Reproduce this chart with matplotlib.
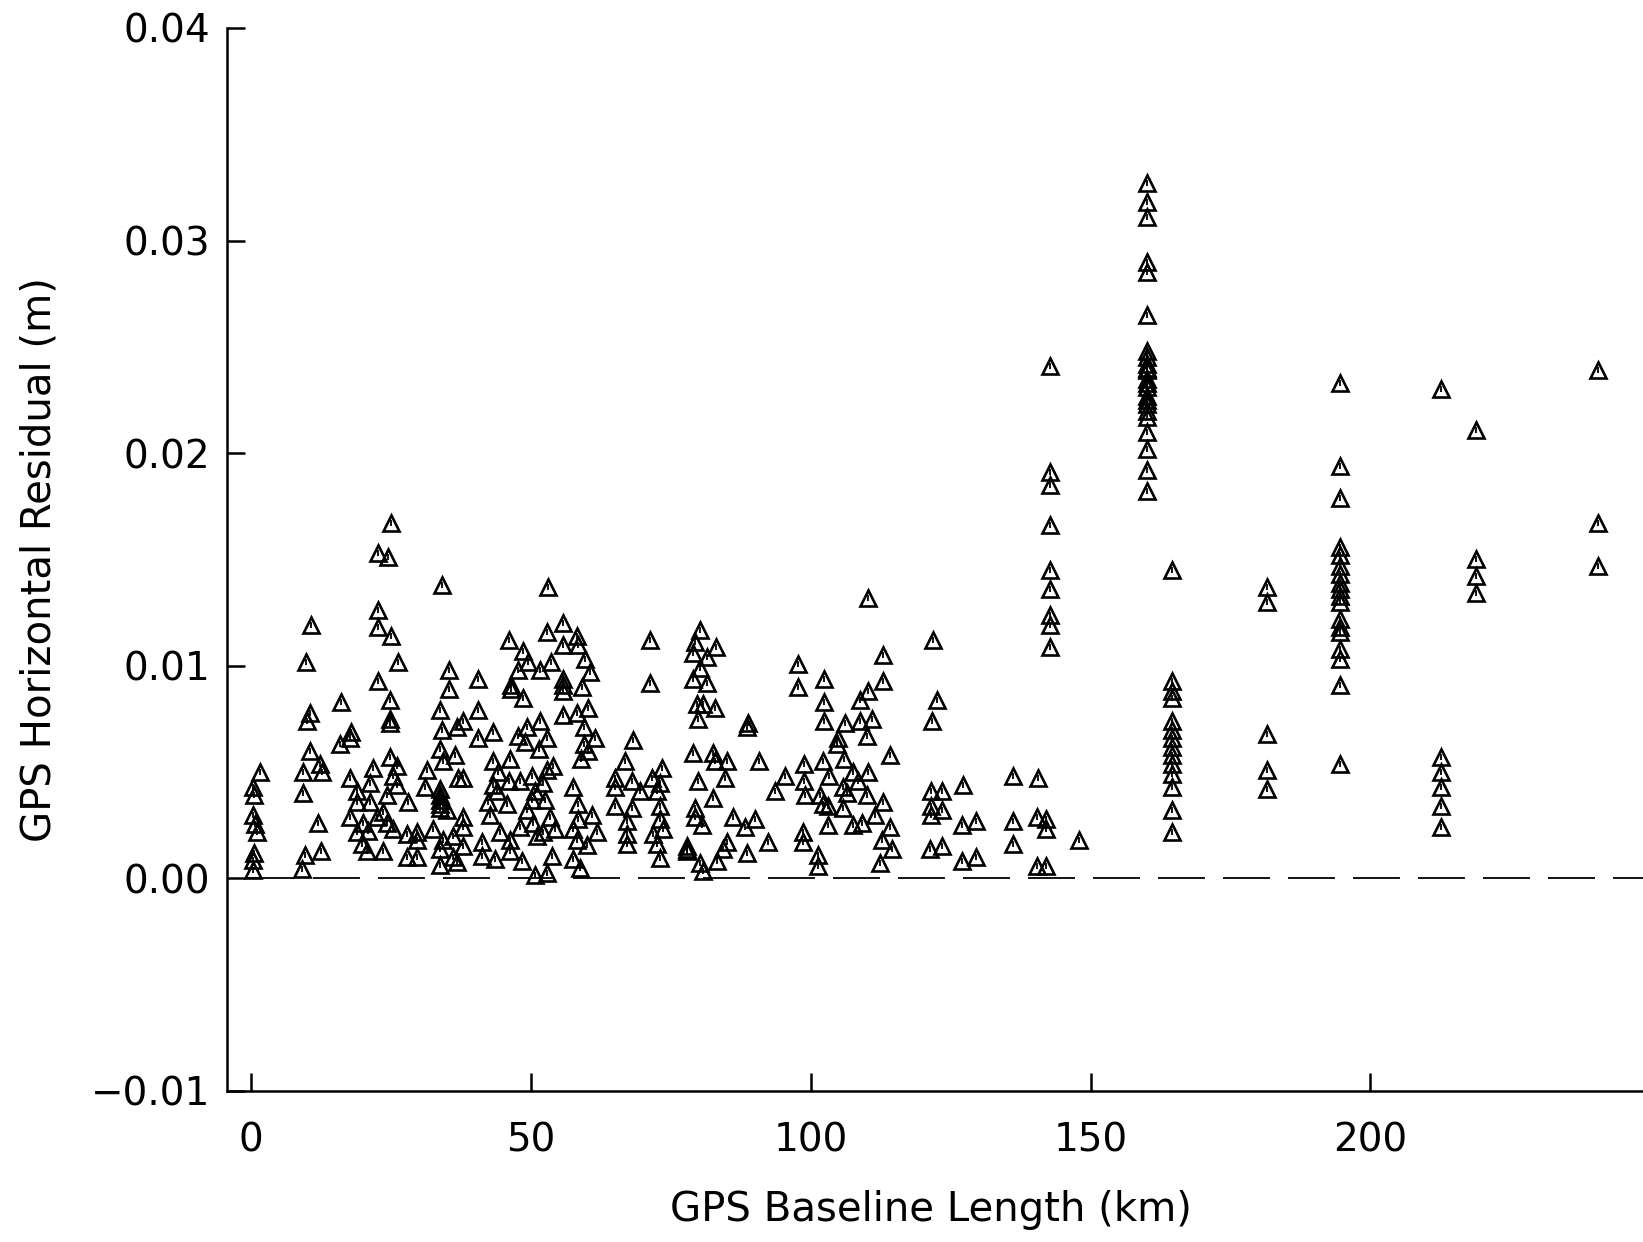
import numpy as np
import matplotlib
matplotlib.use('Agg')
import matplotlib.pyplot as plt

# residuals, in mm (converted to m when plotted)
# short baselines, 0-38 km
km_a = [24.9, 22.6, 24.4, 34.0, 10.6, 22.6, 22.6, 24.9, 9.7, 26.2,
        35.3, 22.6, 35.3, 16.0, 24.7, 24.7, 24.7, 10.5, 9.9, 33.7,
        17.8, 17.6, 15.8, 34.0, 36.7, 37.8, 10.5, 12.2, 9.2, 12.6,
        1.5, 0.3, 0.4, 9.2, 24.7, 21.7, 26.0, 17.6, 21.2, 25.3,
        18.9, 26.0, 24.2, 28.0, 18.9, 21.2, 23.5, 17.6, 19.9, 22.4,
        24.2, 25.3, 18.9, 20.8, 27.8, 29.6, 29.6, 19.7, 20.6, 23.5,
        27.8, 29.6, 31.4, 33.7, 34.2, 36.4, 36.9, 31.0, 33.7, 33.7,
        33.7, 33.7, 33.7, 34.9, 37.8, 32.4, 34.2, 36.0, 37.8, 33.7,
        36.0, 33.7, 36.7, 0.3, 0.6, 1.0, 0.4, 0.3, 0.3, 11.9,
        9.6, 12.4, 9.0, 37.8, 37.8]
mm_a = [16.7, 15.3, 15.1, 13.8, 11.9, 12.6, 11.8, 11.4, 10.2, 10.2,
        9.8, 9.3, 8.9, 8.3, 8.4, 7.5, 7.3, 7.8, 7.4, 7.9,
        6.9, 6.6, 6.3, 7.0, 7.1, 7.4, 6.0, 5.4, 5.0, 5.0,
        5.0, 4.3, 3.9, 4.0, 5.7, 5.2, 5.3, 4.7, 4.5, 4.8,
        4.1, 4.4, 3.9, 3.6, 3.6, 3.6, 3.1, 2.9, 2.6, 2.9,
        2.6, 2.3, 2.2, 2.25, 2.1, 2.2, 1.8, 1.6, 1.3, 1.3,
        1.0, 1.0, 5.1, 6.1, 5.5, 5.8, 4.7, 4.3, 4.2, 3.7,
        3.9, 3.5, 3.3, 3.2, 2.9, 2.3, 1.8, 2.0, 1.5, 1.4,
        1.0, 0.65, 0.75, 3.0, 2.55, 2.2, 1.2, 0.85, 0.4, 2.6,
        1.1, 1.3, 0.45, 4.7, 2.4]

# 40-75 km
km_b = [53.0, 55.7, 52.8, 46.0, 58.2, 55.7, 58.4, 48.5, 49.4, 53.5,
        59.6, 47.7, 51.6, 60.5, 55.7, 55.7, 55.7, 46.4, 46.4, 59.1,
        40.5, 48.5, 71.2, 71.2, 40.5, 55.7, 58.2, 60.1, 51.6, 43.2,
        49.2, 47.7, 40.5, 52.8, 59.4, 61.4, 48.9, 51.4, 59.4, 60.1,
        58.9, 68.2, 43.2, 46.2, 53.9, 52.8, 66.8, 73.4, 44.1, 46.0,
        48.0, 50.1, 52.1, 43.2, 65.0, 68.0, 71.6, 73.0, 57.5, 65.0,
        69.4, 50.7, 43.9, 72.5, 42.3, 45.6, 50.1, 52.4, 58.4, 65.0,
        68.0, 73.0, 42.6, 49.2, 53.3, 60.8, 58.4, 67.2, 73.0, 44.4,
        48.0, 50.3, 52.1, 54.2, 57.5, 61.7, 67.2, 71.8, 73.6, 41.2,
        46.2, 51.0, 58.2, 60.0, 67.2, 72.5, 41.2, 43.5, 46.2, 48.3,
        53.7, 57.5, 58.7, 73.0, 50.7, 52.8]
mm_b = [13.7, 12.0, 11.6, 11.2, 11.4, 11.0, 11.0, 10.7, 10.2, 10.2,
        10.3, 9.8, 9.8, 9.7, 9.4, 9.1, 8.8, 9.1, 8.9, 9.0,
        9.4, 8.5, 11.2, 9.2, 7.9, 7.7, 7.8, 8.0, 7.4, 6.9,
        7.1, 6.7, 6.6, 6.6, 7.1, 6.6, 6.4, 6.1, 6.3, 6.0,
        5.6, 6.5, 5.5, 5.6, 5.3, 5.1, 5.5, 5.2, 5.0, 4.6,
        4.6, 4.8, 4.5, 4.4, 4.7, 4.6, 4.7, 4.5, 4.3, 4.3,
        4.1, 4.1, 4.1, 4.1, 3.6, 3.5, 3.7, 3.7, 3.5, 3.4,
        3.3, 3.4, 3.0, 3.2, 2.9, 3.0, 2.8, 2.7, 2.8, 2.2,
        2.4, 2.6, 2.2, 2.3, 2.3, 2.2, 2.1, 2.1, 2.3, 1.7,
        1.8, 2.0, 1.8, 1.55, 1.6, 1.6, 1.05, 0.9, 1.3, 0.8,
        1.05, 0.9, 0.5, 0.95, 0.15, 0.25]

# 77-115 km
km_c = [110.2, 80.1, 79.3, 78.9, 83.0, 81.4, 80.1, 78.9, 81.4, 97.7,
        112.9, 97.7, 102.3, 112.9, 110.2, 108.7, 79.6, 80.7, 82.8, 79.8,
        102.3, 88.7, 88.5, 102.3, 106.1, 108.7, 111.0, 104.8, 104.6, 110.0,
        78.9, 82.5, 82.8, 85.0, 90.7, 114.1, 105.9, 98.7, 102.1, 107.5,
        110.2, 95.3, 98.7, 103.2, 79.8, 84.6, 108.4, 105.7, 106.4, 93.6,
        98.9, 101.6, 110.0, 82.5, 112.9, 102.1, 103.1, 105.7, 79.3, 79.3,
        80.5, 86.1, 90.0, 88.2, 111.4, 103.1, 107.5, 109.1, 114.1, 98.6,
        98.6, 77.8, 77.8, 77.8, 85.0, 84.3, 92.3, 88.5, 112.7, 114.5,
        112.3, 80.1, 80.7, 83.2, 101.2, 101.2]
mm_c = [13.2, 11.7, 11.1, 10.6, 10.9, 10.4, 9.9, 9.4, 9.2, 10.1,
        10.5, 9.0, 9.4, 9.3, 8.8, 8.4, 8.2, 8.2, 8.0, 7.5,
        8.3, 7.3, 7.1, 7.4, 7.3, 7.4, 7.5, 6.6, 6.3, 6.7,
        5.9, 5.9, 5.5, 5.5, 5.5, 5.8, 5.6, 5.4, 5.5, 5.0,
        5.0, 4.8, 4.6, 4.8, 4.6, 4.7, 4.6, 4.3, 4.0, 4.1,
        3.9, 3.9, 3.9, 3.8, 3.6, 3.5, 3.4, 3.3, 3.3, 2.9,
        2.5, 2.9, 2.8, 2.4, 3.0, 2.5, 2.5, 2.6, 2.4, 2.2,
        1.7, 1.5, 1.4, 1.3, 1.7, 1.4, 1.7, 1.2, 1.8, 1.4,
        0.7, 0.7, 0.35, 0.8, 1.1, 0.6]

# 120-150 km
km_d = [121.8, 122.5, 121.6, 136.1, 140.5, 127.1, 121.4, 123.4, 121.4, 123.4,
        121.4, 127.0, 129.5, 136.1, 140.4, 142.0, 142.0, 121.2, 123.4, 136.1,
        147.9, 127.0, 129.5, 140.4, 142.0]
mm_d = [11.2, 8.4, 7.4, 4.8, 4.7, 4.4, 4.1, 4.1, 3.4, 3.2,
        3.0, 2.5, 2.7, 2.7, 2.9, 2.8, 2.3, 1.4, 1.5, 1.6,
        1.8, 0.8, 1.0, 0.6, 0.6]

# long baselines, one column each
col_km = [142.7, 160.0, 164.6, 181.5, 194.5, 212.6, 218.9, 240.6]
col_mm = [
    [24.1, 19.1, 18.5, 16.6, 14.5, 13.6, 12.4, 11.9, 10.9],
    [32.7, 31.8, 31.1, 29.0, 28.5, 26.5, 24.8, 24.5, 24.2, 24.0, 23.9, 23.5,
     23.3, 23.1, 22.7, 22.5, 22.3, 22.0, 21.7, 21.0, 20.2, 19.2, 18.2],
    [14.5, 9.3, 8.8, 8.5, 7.4, 7.0, 6.6, 6.2, 5.8, 5.4, 4.9, 4.3, 3.2, 2.2],
    [13.7, 13.0, 6.8, 5.1, 4.2],
    [23.3, 19.4, 17.9, 15.6, 15.2, 14.7, 14.3, 13.9, 13.6, 13.3, 13.0, 12.2,
     11.8, 11.6, 10.8, 10.3, 9.1, 5.4],
    [23.0, 5.7, 5.0, 4.3, 3.4, 2.4],
    [21.1, 15.0, 14.2, 13.4],
    [23.9, 16.7, 14.7],
]

xticks = [0, 50, 100, 150, 200]
yticks = [-0.01, 0.0, 0.01, 0.02, 0.03, 0.04]
ytick_labels = ['\u22120.01', '0.00', '0.01', '0.02', '0.03', '0.04']

km = np.concatenate([km_a, km_b, km_c, km_d] +
                    [np.full(len(m), k) for k, m in zip(col_km, col_mm)])
res = np.concatenate([mm_a, mm_b, mm_c, mm_d] + col_mm) / 1000.0

fig = plt.figure(figsize=(16.43, 12.42), dpi=100)
ax = fig.add_axes([0.138, 0.1216, 0.862, 0.8559])

ax.axhline(0, xmin=0.015, color='k', lw=1.3, dashes=(26, 10))
ax.plot(km, res, ls='none', marker='^', ms=12, mfc='none', mec='k', mew=1.9)
ax.plot(km, res, ls='none', marker='|', ms=4.5, mec='k', mew=1.3)

ax.set_xlim(-4.4, 248.7)
ax.set_ylim(-0.01, 0.04)
ax.spines['top'].set_visible(False)
ax.spines['right'].set_visible(False)
for s in ['left', 'bottom']:
    ax.spines[s].set_linewidth(1.8)

ax.set_xticks(xticks)
ax.set_yticks(yticks)
ax.set_yticklabels(ytick_labels)
ax.tick_params(direction='in', length=13, width=1.8, labelsize=28)
ax.tick_params(axis='x', pad=22)
ax.tick_params(axis='y', pad=12)

ax.set_xlabel('GPS Baseline Length (km)', fontsize=29, va='center')
ax.xaxis.set_label_coords(0.497, -0.112)
ax.set_ylabel('GPS Horizontal Residual (m)', fontsize=29, va='center')
ax.yaxis.set_label_coords(-0.132, 0.5)

fig.savefig('out.png', dpi=100)
